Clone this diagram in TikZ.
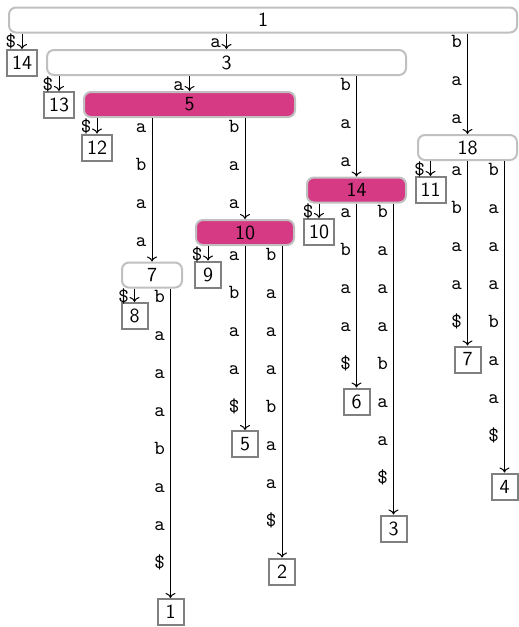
\documentclass[tikz,border=0pt]{standalone}
\usepackage{fontspec}
\usetikzlibrary{calc,arrows.meta}
\definecolor{magentafill}{RGB}{214,58,132}
\definecolor{inborder}{RGB}{192,192,192}
\definecolor{leafborder}{RGB}{128,128,128}
\newcommand{\tedge}[3]{%
  \draw[edge] (#1.south -| #2.north) -- (#2.north);
  \foreach \ch [count=\k from 0] in {#3}
    \path (#1.south -| #2.north) ++(-11,{14+38*\k}) node[lbl] (lab-#2-\k) {\ch};
}
\begin{document}
\begin{tikzpicture}[x=0.5pt,y=-0.5pt,
  inode/.style={draw=inborder, line width=1pt, rounded corners=3.5pt, minimum height=12.5pt, inner sep=0pt, font=\sffamily},
  hl/.style={fill=magentafill},
  leaf/.style={draw=leafborder, line width=1pt, minimum size=13pt, inner sep=2.5pt, font=\sffamily},
  edge/.style={-{To[length=2.5pt,width=5pt]}, line width=0.5pt},
  lbl/.style={font=\ttfamily, anchor=base, inner sep=0pt}]
\useasboundingbox (0,0) rectangle (519,627);
% internal nodes
\node[inode, minimum width=254pt] (n1) at (263,20) {1};
\node[inode, minimum width=179.5pt] (n3) at (226.5,62.5) {3};
\node[inode, hl, minimum width=105.5pt] (n5) at (189.5,104.5) {5};
\node[inode, minimum width=30pt] (n7) at (152,275) {7};
\node[inode, hl, minimum width=49pt] (n10) at (245,232.5) {10};
\node[inode, hl, minimum width=49.5pt] (n14) at (356.5,190) {14};
\node[inode, minimum width=49.5pt] (n18) at (467.5,147.5) {18};
% leaves
\node[leaf] (l14) at (22,63) {14};
\node[leaf] (l13) at (59,105) {13};
\node[leaf] (l12) at (97,147.5) {12};
\node[leaf] (l8) at (134.5,316) {8};
\node[leaf] (l9) at (208,274.5) {9};
\node[leaf] (l10) at (319,232) {10};
\node[leaf] (l11) at (430.5,190) {11};
\node[leaf] (l5) at (245,444) {5};
\node[leaf] (l2) at (282,571.5) {2};
\node[leaf] (l1) at (170.5,612) {1};
\node[leaf] (l6) at (356.5,401.5) {6};
\node[leaf] (l3) at (393.5,528.5) {3};
\node[leaf] (l7) at (467.5,359.5) {7};
\node[leaf] (l4) at (504.5,486.5) {4};
% edges
\tedge{n1}{l14}{\$}
\tedge{n1}{n3}{a}
\tedge{n1}{n18}{b,a,a}
\tedge{n3}{l13}{\$}
\tedge{n3}{n5}{a}
\tedge{n3}{n14}{b,a,a}
\tedge{n5}{l12}{\$}
\tedge{n5}{n7}{a,b,a,a}
\tedge{n5}{n10}{b,a,a}
\tedge{n7}{l8}{\$}
\tedge{n7}{l1}{b,a,a,a,b,a,a,\$}
\tedge{n10}{l9}{\$}
\tedge{n10}{l5}{a,b,a,a,\$}
\tedge{n10}{l2}{b,a,a,a,b,a,a,\$}
\tedge{n14}{l10}{\$}
\tedge{n14}{l6}{a,b,a,a,\$}
\tedge{n14}{l3}{b,a,a,a,b,a,a,\$}
\tedge{n18}{l11}{\$}
\tedge{n18}{l7}{a,b,a,a,\$}
\tedge{n18}{l4}{b,a,a,a,b,a,a,\$}
\end{tikzpicture}
\end{document}
